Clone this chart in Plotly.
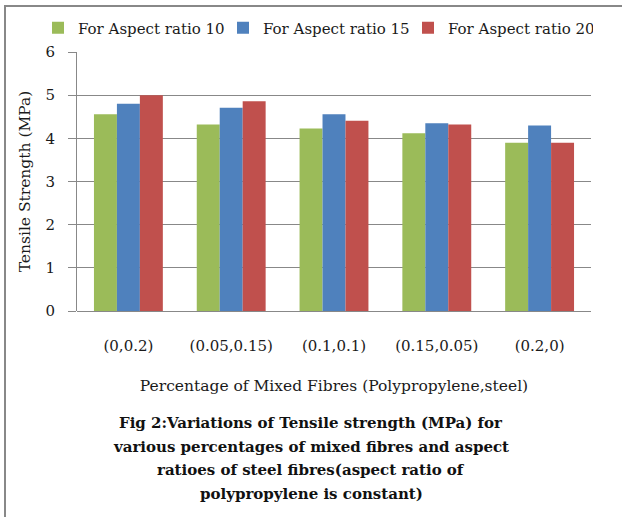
import plotly.graph_objects as go

categories = ["(0,0.2)", "(0.05,0.15)", "(0.1,0.1)", "(0.15,0.05)", "(0.2,0)"]
series_names = ["For Aspect ratio 10", "For Aspect ratio 15", "For Aspect ratio 20"]
ar10 = [4.56, 4.32, 4.23, 4.12, 3.90]
ar15 = [4.80, 4.71, 4.56, 4.35, 4.30]
ar20 = [5.00, 4.86, 4.41, 4.32, 3.90]
colors = ["#9BBB59", "#4F81BD", "#C0504D"]
caption_lines = [
    "Fig 2:Variations of Tensile strength (MPa) for",
    "various percentages of mixed fibres and aspect",
    "ratioes of steel fibres(aspect ratio of",
    "polypropylene is constant)",
]

W, H = 622, 517
L, R, T, B = 77, 31, 52, 206
pw, ph = W - L - R, H - T - B

def px(x):
    return (x - L) / pw

def py(y):
    return 1 - (y - T) / ph

font = "DejaVu Serif"
txt = "#1a1a1a"
grid = "#888888"

fig = go.Figure()
for name, vals, c in zip(series_names, [ar10, ar15, ar20], colors):
    fig.add_trace(go.Bar(x=categories, y=vals, name=name, marker_color=c,
                         marker_line_width=0))

fig.update_layout(
    width=W, height=H,
    margin=dict(l=L, r=R, t=T, b=B),
    paper_bgcolor="white", plot_bgcolor="white",
    barmode="group", bargap=0.33, bargroupgap=0,
    font=dict(family=font, size=15, color=txt),
    legend=dict(orientation="h", x=px(38), y=py(28), yanchor="middle", xanchor="left",
                font=dict(size=15, family=font, color=txt), itemwidth=30,
                entrywidth=140, tracegroupgap=0),
    xaxis=dict(showgrid=False, showline=False, ticks="", ticklabelstandoff=24,
               tickfont=dict(size=15, color=txt),
               title=dict(text="Percentage of Mixed Fibres (Polypropylene,steel)",
                          font=dict(size=15.5, color=txt), standoff=26)),
    yaxis=dict(range=[0, 6], dtick=1, showgrid=True, gridcolor=grid, gridwidth=1,
               showline=True, linecolor=grid, linewidth=1, ticks="outside",
               ticklen=8, tickcolor=grid, tickfont=dict(size=15, color=txt),
               ticklabelstandoff=10,
               zeroline=True, zerolinecolor=grid, zerolinewidth=1,
               title=dict(text="Tensile Strength (MPa)", font=dict(size=15.5, color=txt),
                          standoff=11)),
    showlegend=True,
)

for i, line in enumerate(caption_lines):
    fig.add_annotation(
        text="<b>" + line + "</b>",
        xref="paper", yref="paper", x=px(311), y=py(423 + 23.7 * i),
        xanchor="center", yanchor="middle",
        showarrow=False, font=dict(family=font, size=15, color="#111"),
    )

fig.add_shape(type="line", xref="paper", yref="paper", x0=px(4), x1=px(622), y0=py(6), y1=py(6),
              line=dict(color=grid, width=2))
fig.add_shape(type="line", xref="paper", yref="paper", x0=px(5), x1=px(5), y0=py(5), y1=py(517),
              line=dict(color=grid, width=2))

fig.write_html("out.html", config={"displayModeBar": False},
               post_script="document.body.style.margin='0px';")
